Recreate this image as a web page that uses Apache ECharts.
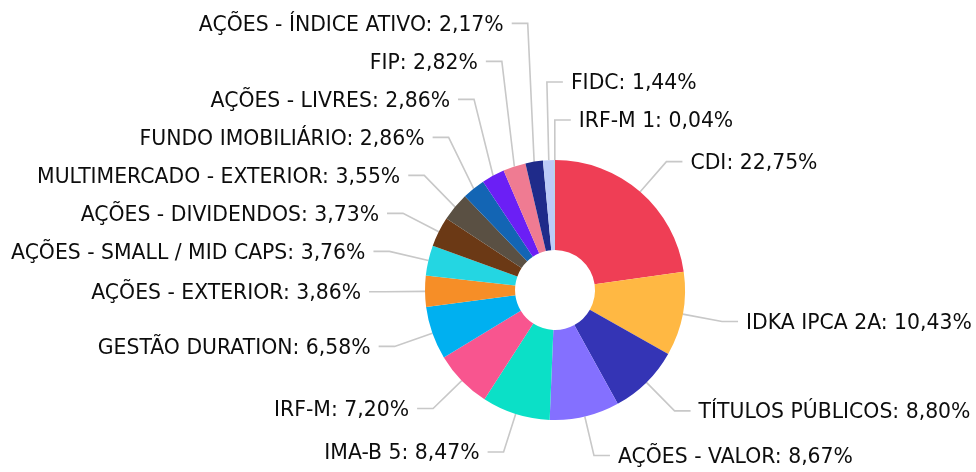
<!DOCTYPE html>
<html>
<head>
<meta charset="utf-8">
<script src="https://cdn.jsdelivr.net/npm/echarts@6/dist/echarts.min.js"></script>
<style>html,body{margin:0;padding:0;background:#fff;}#c{width:976px;height:472px;}</style>
</head>
<body>
<div id="c"></div>
<script>
const categories = ["CDI","IDKA IPCA 2A","TÍTULOS PÚBLICOS","AÇÕES - VALOR","IMA-B 5","IRF-M","GESTÃO DURATION","AÇÕES - EXTERIOR","AÇÕES - SMALL / MID CAPS","AÇÕES - DIVIDENDOS","MULTIMERCADO - EXTERIOR","FUNDO IMOBILIÁRIO","AÇÕES - LIVRES","FIP","AÇÕES - ÍNDICE ATIVO","FIDC","IRF-M 1"];
const values = [22.75,10.43,8.80,8.67,8.47,7.20,6.58,3.86,3.76,3.73,3.55,2.86,2.86,2.82,2.17,1.44,0.04];
const colors = ["#ef3e55","#ffb843","#3434b5","#8470ff","#0be0c7","#f8558f","#00b0f0","#f68e27","#24d6e2","#6b3915","#5a5043","#1365b4","#6b1ff5","#ef7b92","#1f2b8a","#bccbf8","#7fd0a0"];

// geometry settings
const CX = 555, CY = 290, R_IN = 40, R_OUT = 130;
const LEN = 40, LEN2 = 16, GAP = 8, SPACING = 38, TEXT_DY = 2;

// label layout derived from the data (mid angle of each slice)
const total = values.reduce((s, v) => s + v, 0);
let acc = 0;
const lay = values.map((v) => {
  const mid = (acc + v / 2) / total * 360; acc += v;
  const rad = mid * Math.PI / 180;
  const signed = mid > 180 ? mid - 360 : mid;
  const right = signed > -5;
  return {
    mid, signed, right,
    ex: CX + R_OUT * Math.sin(rad), ey: CY - R_OUT * Math.cos(rad),
    bx: CX + (R_OUT + LEN) * Math.sin(rad),
    y: CY - (R_OUT + LEN) * Math.cos(rad)
  };
});
function resolve(list) {
  const upper = list.filter(o => o.y < CY), lower = list.filter(o => o.y >= CY);
  for (let i = upper.length - 2; i >= 0; i--) upper[i].y = Math.min(upper[i].y, upper[i + 1].y - SPACING);
  if (lower.length && upper.length) lower[0].y = Math.max(lower[0].y, upper[upper.length - 1].y + SPACING);
  for (let i = 1; i < lower.length; i++) lower[i].y = Math.max(lower[i].y, lower[i - 1].y + SPACING);
}
resolve(lay.filter(o => o.right).sort((a, b) => a.signed - b.signed));
resolve(lay.filter(o => !o.right).sort((a, b) => b.mid - a.mid));

const chart = echarts.init(document.getElementById('c'));
chart.setOption({
  animation: false,
  series: [{
    type: 'pie',
    center: [CX, CY],
    radius: [R_IN, R_OUT],
    startAngle: 90,
    clockwise: true,
    avoidLabelOverlap: false,
    minShowLabelAngle: 0,
    data: categories.map((n, i) => ({ name: n, value: values[i], itemStyle: { color: colors[i] } })),
    label: {
      show: true,
      fontFamily: 'DejaVu Sans',
      fontSize: 20.4,
      color: '#0d0d0d',
      formatter: p => p.name + ': ' + p.value.toFixed(2).replace('.', ',') + '%'
    },
    labelLine: { show: true, length: LEN, length2: LEN2, lineStyle: { color: '#c8c8c8', width: 1.6 } },
    labelLayout: (params) => {
      const o = lay[params.dataIndex];
      const dir = o.right ? 1 : -1;
      const lx = o.bx + dir * LEN2;
      return {
        x: lx + dir * GAP,
        y: o.y + TEXT_DY,
        align: o.right ? 'left' : 'right',
        verticalAlign: 'middle',
        hideOverlap: false,
        labelLinePoints: [[o.ex, o.ey], [o.bx, o.y], [lx, o.y]]
      };
    },
    itemStyle: { borderWidth: 0 },
    emphasis: { disabled: true }
  }]
});
</script>
</body>
</html>
